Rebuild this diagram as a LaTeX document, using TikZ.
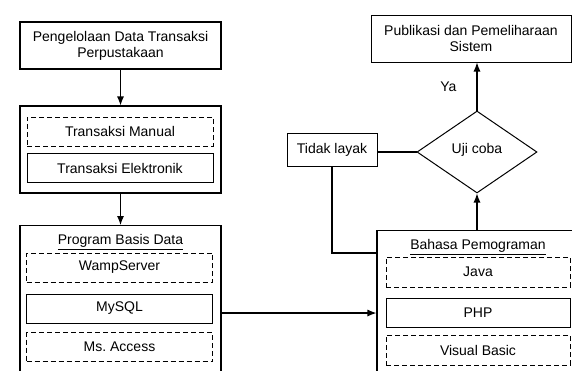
\documentclass[tikz,border=0pt]{standalone}
\usepackage{fontspec}
\setmainfont{Liberation Sans}
\usetikzlibrary{arrows.meta,shapes.geometric,positioning,calc}

\begin{document}
\begin{tikzpicture}[x=1pt,y=-1pt,
        every node/.style={font=\fontsize{14}{16}\selectfont,inner sep=0pt,align=center},
        outer/.style={draw,line width=1.1pt,minimum width=201pt},
        item/.style={draw,line width=1pt,minimum width=186pt,minimum height=29pt},
        dashitem/.style={item,dash pattern=on 5pt off 3pt},
        conn/.style={line width=1.1pt},
        arr/.style={conn,-{Latex[length=9pt,width=7pt]}}]
        \useasboundingbox (0,0) rectangle (572,370);
        % left column
        \node[outer,minimum height=47pt] at (120.5,45.5)
        (s0) {Pengelolaan Data Transaksi\\Perpustakaan};
        \node[outer,minimum height=87pt] at (120.5,149.5)
        (s1) {};
        \node[dashitem] at (120,131.5)
        (man) {Transaksi Manual};
        \node[item] at (120,168)
        (elk) {Transaksi Elektronik};
        \node[outer,minimum height=160pt,anchor=north] at (120.5,225)
        (db) {};
        \node at (120.5,242)
        (dbt) {\underline{Program Basis Data}};
        \node[dashitem] at (119.5,267.5)
        (wamp) {WampServer};
        \node[item] at (119.5,308.5)
        (sql) {MySQL};
        \node[dashitem] at (119.5,347)
        (acc) {Ms.\ Access};
        % right column
        \node[outer,minimum width=202pt,minimum height=160pt,anchor=north] at (478,230)
        (bp) {};
        \node at (478,247)
        (bpt) {\underline{Bahasa Pemograman}};
        \node[dashitem,minimum width=184pt,minimum height=30pt] at (478,272)
        (java) {Java};
        \node[item,minimum width=184pt] at (478,312.5)
        (php) {PHP};
        \node[dashitem,minimum width=184pt,minimum height=30pt] at (478,350)
        (vb) {Visual Basic};
        \node[draw,diamond,line width=1pt,minimum width=120pt,minimum height=82pt] at (477,152)
        (uji) {\raisebox{8pt}{Uji coba}};
        \node[draw,line width=1pt,minimum width=200pt,minimum height=47pt] at (471,38.5)
        (pub) {Publikasi dan Pemeliharaan\\Sistem};
        \node[draw,line width=1pt,minimum width=90pt,minimum height=33pt] at (332,149.5)
        (tl) {Tidak layak};
        % connectors
        \draw[arr] (s0.south) -- (s1.north);
        \draw[arr] (s1.south) -- (db.north);
        \draw[arr] ([yshift=-4.5pt]sql.east -| db.east) -- ([yshift=-4.5pt]sql.east -| bp.west);
        \draw[arr] (bp.north -| uji.south) -- (uji.south);
        \draw[arr] (uji.north) -- node[left=20pt] {Ya} (uji.north |- pub.south);
        \draw[conn] (uji.west) -- (uji.west -| tl.east);
        \draw[conn] (tl.south) |- ([yshift=-23pt]bp.north west);
\end{tikzpicture}
\end{document}
